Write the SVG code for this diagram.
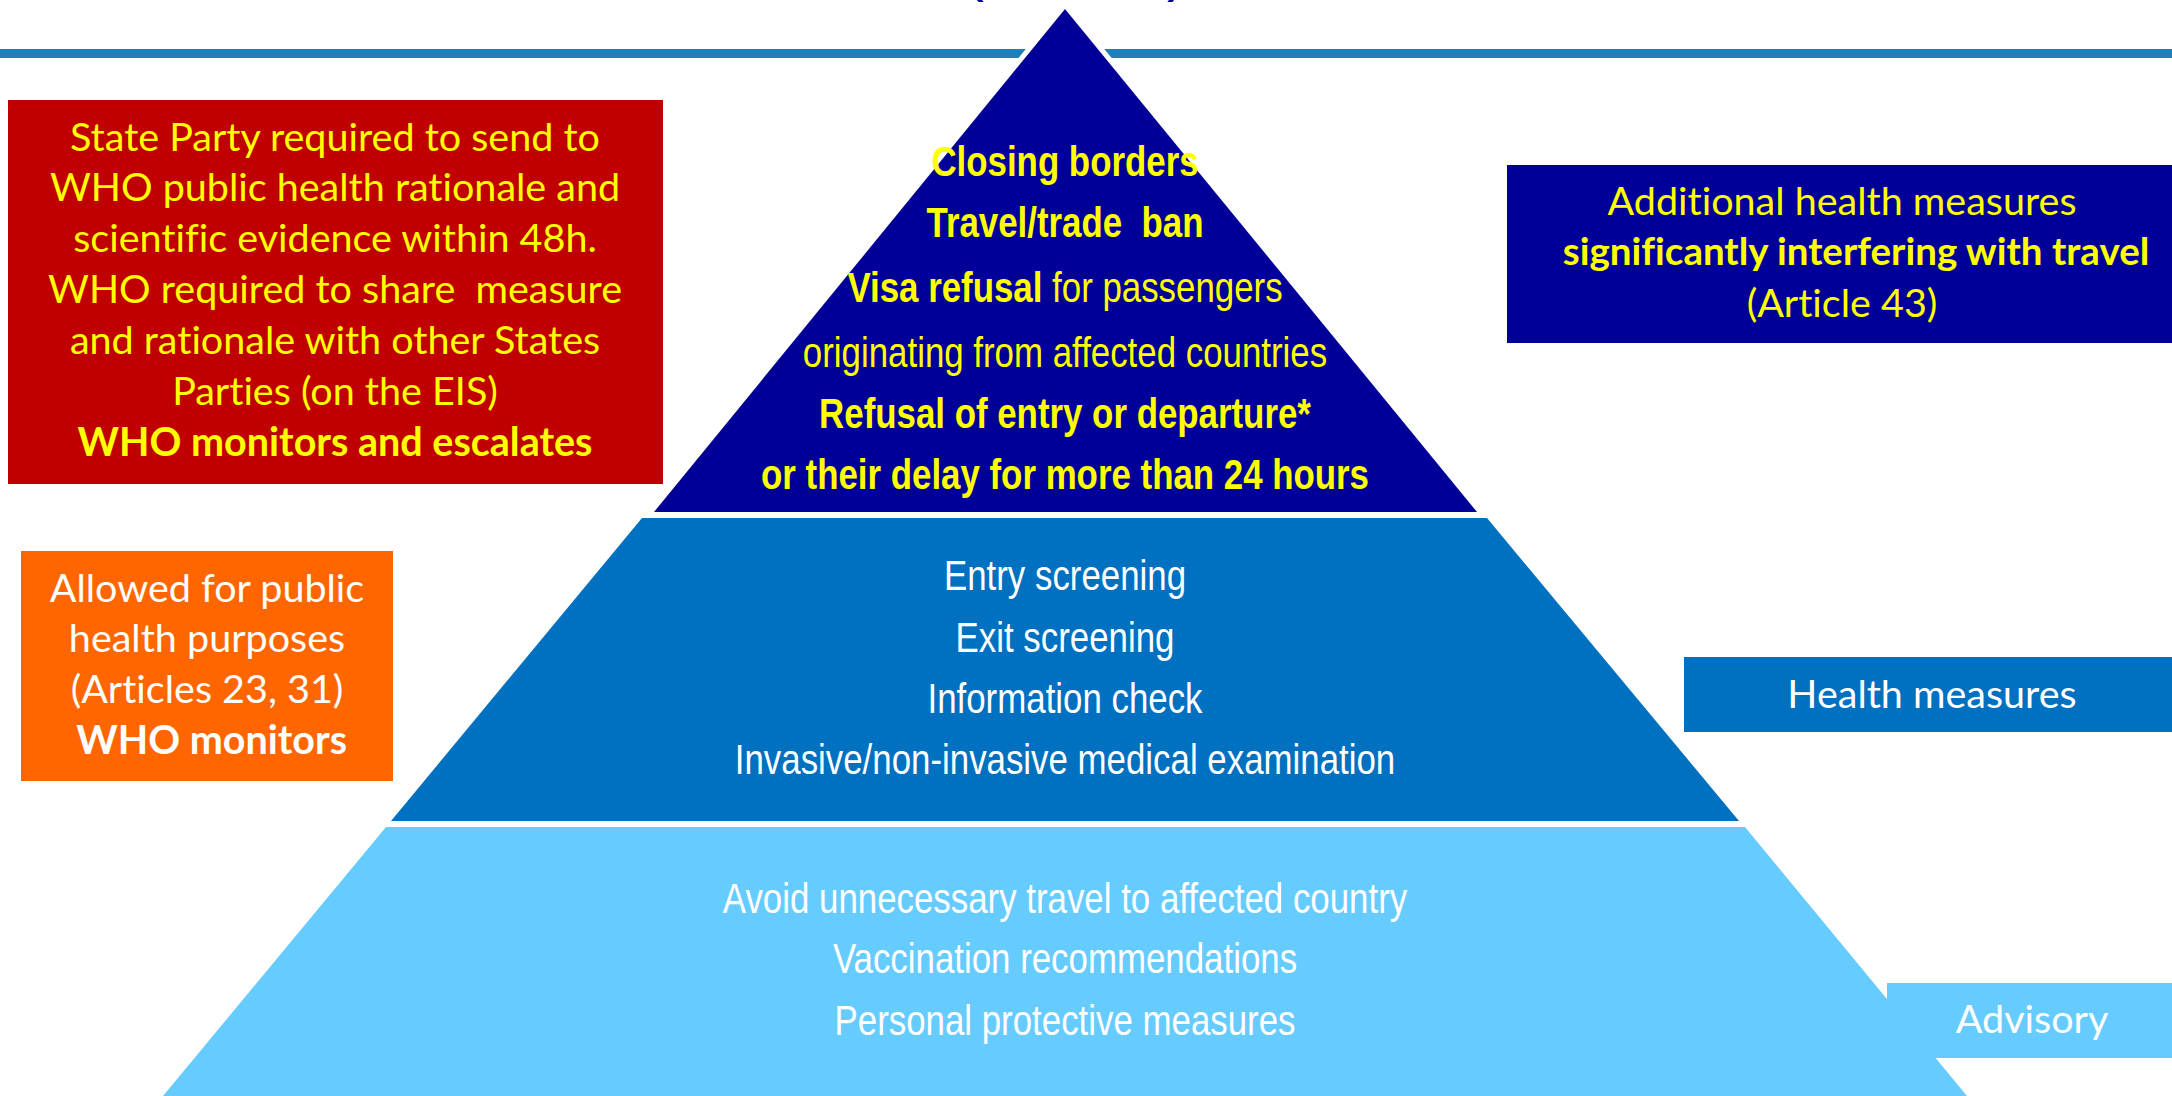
<svg xmlns="http://www.w3.org/2000/svg" width="2172" height="1096" viewBox="0 0 2172 1096">
  <style>
    .cal { font-family: Lato, 'Open Sans', 'Liberation Sans', sans-serif; font-size: 39.5px; text-anchor: middle; white-space: pre; font-variant-ligatures: none; }
    .nar { font-family: 'Liberation Sans', Arial, sans-serif; font-size: 42px; text-anchor: middle; white-space: pre; }
    .b { font-weight: bold; }
    .sm { font-size: 38.5px; }
    .yel { fill: #FFFF00; }
    .wht { fill: #FFFFFF; }
    .tier { stroke: #FFFFFF; stroke-width: 10; stroke-linejoin: miter; paint-order: stroke; }
  </style>

  <!-- page background -->
  <rect x="0" y="0" width="2172" height="1096" fill="#FFFFFF"/>

  <!-- title (runs above the page edge) -->
  <g id="title" fill="#000099" font-family="'Liberation Sans', sans-serif" font-size="60">
    <text x="964" y="-10">(</text>
    <text x="1167" y="-10">)</text>
  </g>

  <!-- header rule -->
  <rect id="header-rule" x="0" y="49" width="2172" height="9" fill="#1F7FB8"/>

  <!-- pyramid: top tier (text set condensed by a horizontal squeeze) -->
  <g id="tier-restrictive">
    <polygon class="tier" points="1065,9 1477,512 654,512" fill="#000099"/>
    <g transform="translate(1065 0) scale(0.83 1)">
      <text class="nar b yel" x="0" y="176">Closing borders</text>
      <text class="nar b yel" x="0" y="237">Travel/trade  ban</text>
      <text class="nar yel" x="0" y="302"><tspan class="b">Visa refusal</tspan> for passengers</text>
      <text class="nar yel" x="0" y="367">originating from affected countries</text>
      <text class="nar b yel" x="0" y="428">Refusal of entry or departure*</text>
      <text class="nar b yel" x="0" y="489">or their delay for more than 24 hours</text>
    </g>
  </g>

  <!-- pyramid: middle tier -->
  <g id="tier-health">
    <polygon class="tier" points="642,518 1487,518 1739,821 391,821" fill="#0070C0"/>
    <g transform="translate(1065 0) scale(0.83 1)">
      <text class="nar wht" x="0" y="590">Entry screening</text>
      <text class="nar wht" x="0" y="652">Exit screening</text>
      <text class="nar wht" x="0" y="713">Information check</text>
      <text class="nar wht" x="0" y="774">Invasive/non-invasive medical examination</text>
    </g>
  </g>

  <!-- pyramid: bottom tier -->
  <g id="tier-advisory">
    <polygon class="tier" points="386,827 1745,827 1967,1096 163,1096" fill="#66CCFF"/>
    <g transform="translate(1065 0) scale(0.83 1)">
      <text class="nar wht" x="0" y="913">Avoid unnecessary travel to affected country</text>
      <text class="nar wht" x="0" y="973">Vaccination recommendations</text>
      <text class="nar wht" x="0" y="1035">Personal protective measures</text>
    </g>
  </g>

  <!-- left: conditions for the top tier -->
  <g id="note-escalates">
    <rect x="8" y="100" width="655" height="384" fill="#C00000"/>
    <text class="cal yel" x="335" y="151">State Party required to send to</text>
    <text class="cal yel" x="335" y="201">WHO public health rationale and</text>
    <text class="cal yel" x="335" y="252">scientific evidence within 48h.</text>
    <text class="cal yel" x="335" y="303">WHO required to share  measure</text>
    <text class="cal yel" x="335" y="354">and rationale with other States</text>
    <text class="cal yel" x="335" y="405">Parties (on the EIS)</text>
    <text class="cal b yel" x="335" y="456">WHO monitors and escalates</text>
  </g>

  <!-- left: conditions for the middle tier -->
  <g id="note-monitors">
    <rect x="21" y="551" width="372" height="230" fill="#FF6600"/>
    <text class="cal wht" x="207" y="602">Allowed for public</text>
    <text class="cal wht" x="207" y="652">health purposes</text>
    <text class="cal wht" x="207" y="703">(Articles 23, 31)</text>
    <text class="cal b wht" x="207" y="754"> WHO monitors</text>
  </g>

  <!-- right: tier labels -->
  <g id="label-additional">
    <rect x="1507" y="165" width="665" height="178" fill="#000099"/>
    <text class="cal yel" x="1842" y="215">Additional health measures</text>
    <text class="cal b sm yel" x="1856" y="265">significantly interfering with travel</text>
    <text class="cal yel" x="1842" y="317">(Article 43)</text>
  </g>

  <g id="label-health">
    <rect x="1684" y="657" width="488" height="75" fill="#0070C0"/>
    <text class="cal wht" x="1932" y="708">Health measures</text>
  </g>

  <g id="label-advisory">
    <rect x="1887" y="983" width="285" height="75" fill="#66CCFF"/>
    <text class="cal wht" x="2032" y="1033">Advisory</text>
  </g>

  <g id="connectors"/>
</svg>
